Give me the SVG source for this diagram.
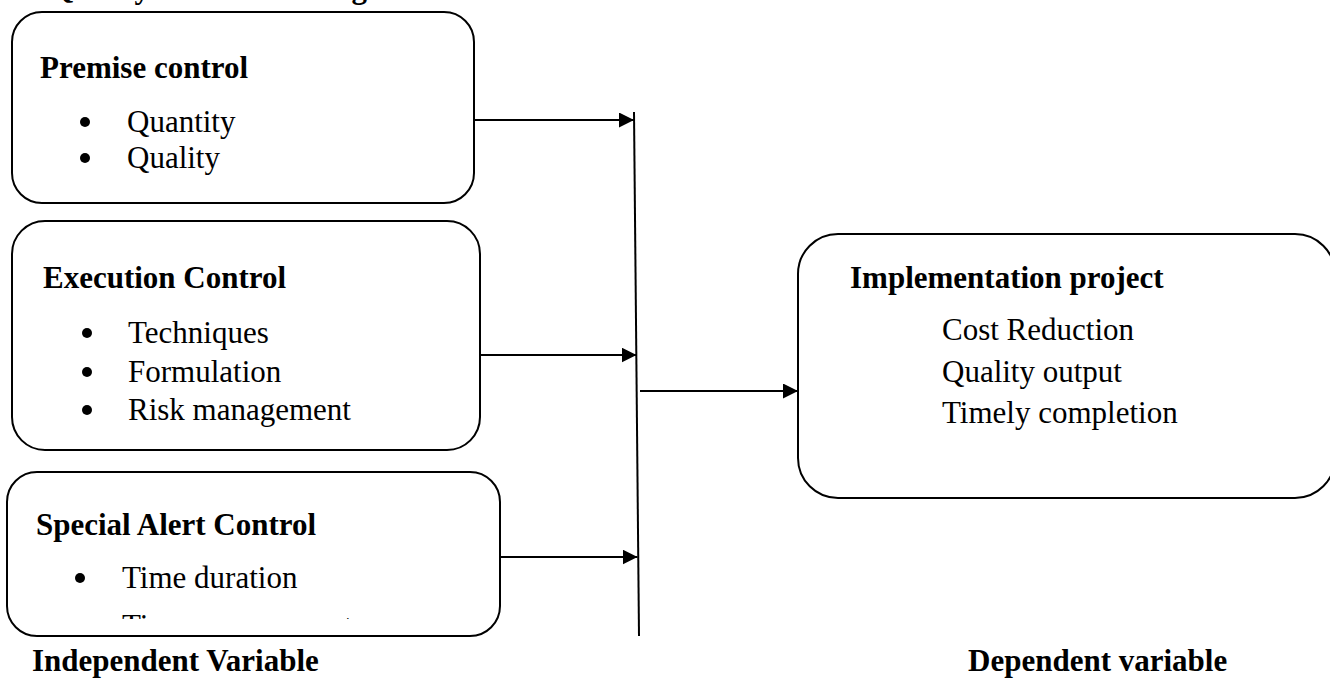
<svg xmlns="http://www.w3.org/2000/svg" width="1330" height="678" viewBox="0 0 1330 678">
<style>
.box{fill:#fff;stroke:#000;stroke-width:2}
.h{font-family:"Liberation Serif","Times New Roman",serif;font-weight:bold;font-size:31px;fill:#000}
.t{font-family:"Liberation Serif","Times New Roman",serif;font-size:31px;fill:#000}
.conn{stroke:#000;stroke-width:2;fill:none}
</style>
<defs>
<marker id="arr" markerUnits="userSpaceOnUse" markerWidth="16" markerHeight="16" refX="15" refY="7.5" orient="auto">
<path d="M0,0 L15,7.5 L0,15 Z" fill="#000"/>
</marker>
<clipPath id="clipT"><rect x="100" y="600" width="300" height="19"/></clipPath>
</defs>
<rect width="1330" height="678" fill="#fff"/>
<g id="title">
<text class="h" x="50" y="-2" font-size="32">Quality and Monitoring</text>
</g>
<g id="premise">
<rect class="box" x="12" y="12" width="462" height="191" rx="30"/>
<text class="h" x="40" y="78">Premise control</text>
<circle cx="85" cy="122" r="5"/>
<text class="t" x="127" y="132">Quantity</text>
<circle cx="85" cy="158" r="5"/>
<text class="t" x="127" y="168">Quality</text>
</g>
<g id="execution">
<rect class="box" x="12" y="221" width="468" height="229" rx="33"/>
<text class="h" x="43" y="288">Execution Control</text>
<circle cx="87" cy="333" r="5"/>
<text class="t" x="128" y="343">Techniques</text>
<circle cx="87" cy="372" r="5"/>
<text class="t" x="128" y="382">Formulation</text>
<circle cx="87" cy="410" r="5"/>
<text class="t" x="128" y="420">Risk management</text>
</g>
<g id="special">
<rect class="box" x="7" y="472" width="493" height="164" rx="30"/>
<text class="h" x="36" y="535">Special Alert Control</text>
<circle cx="80" cy="578" r="5"/>
<text class="t" x="122" y="588">Time duration</text>
<g clip-path="url(#clipT)"><text class="t" x="122" y="636">Time management</text></g>
</g>
<g id="implementation">
<rect class="box" x="798" y="234" width="537" height="264" rx="40"/>
<text class="h" x="850" y="288">Implementation project</text>
<text class="t" x="942" y="340">Cost Reduction</text>
<text class="t" x="942" y="382">Quality output</text>
<text class="t" x="942" y="423">Timely completion</text>
</g>
<g id="labels">
<text class="h" x="32" y="671">Independent Variable</text>
<text class="h" x="968" y="671">Dependent variable</text>
</g>
<g id="connectors">
<line class="conn" x1="634" y1="112" x2="639" y2="636"/>
<line class="conn" x1="474" y1="120" x2="634" y2="120" marker-end="url(#arr)"/>
<line class="conn" x1="480" y1="355" x2="636.5" y2="355" marker-end="url(#arr)"/>
<line class="conn" x1="500" y1="557" x2="637.5" y2="557" marker-end="url(#arr)"/>
<line class="conn" x1="640" y1="391" x2="798" y2="391" marker-end="url(#arr)"/>
</g>
</svg>
